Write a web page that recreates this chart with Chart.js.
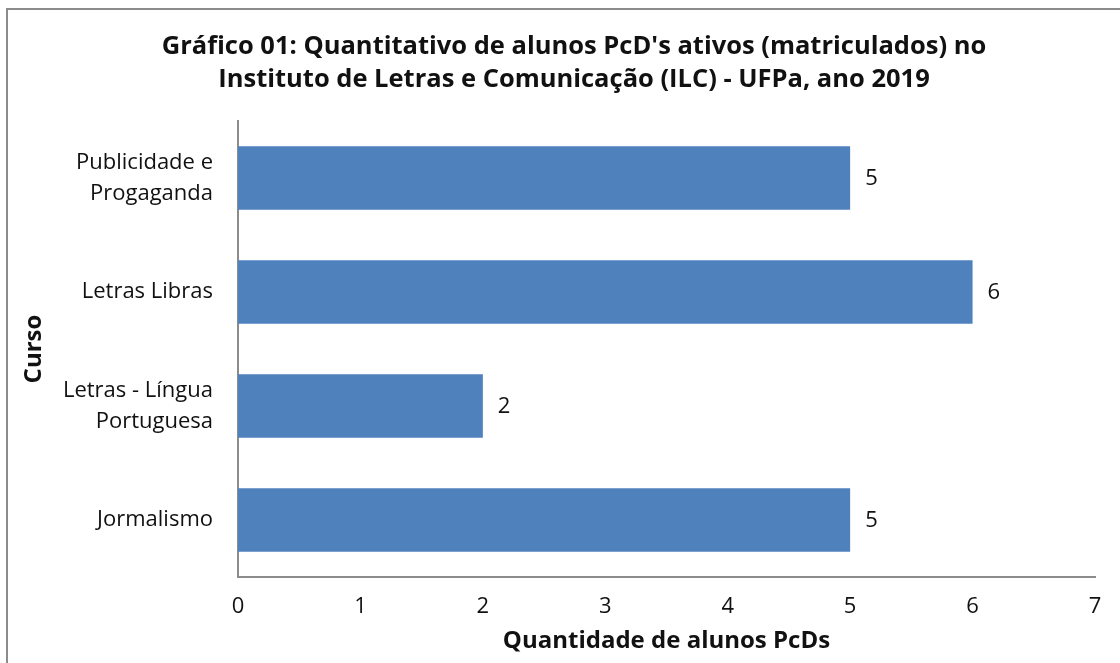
<!DOCTYPE html>
<html><head><meta charset="utf-8">
<script src="https://cdn.jsdelivr.net/npm/chart.js@4"></script>
<style>
html,body{margin:0;padding:0;background:#fff;overflow:hidden}
#frame{position:absolute;left:6px;top:8px;width:1200px;height:800px;border-left:2px solid #8c8c8c;border-top:2px solid #8c8c8c}
#wrap{position:absolute;left:0;top:0;width:1120px;height:663px}
</style></head>
<body>
<div id="frame"></div>
<div id="wrap"><canvas id="c" width="1120" height="663"></canvas></div>
<script>
const categories = [["Publicidade e","Progaganda"], "Letras Libras", ["Letras - Língua","Portuguesa"], "Jormalismo"];
const values = [5, 6, 2, 5];
const xTicks = [0, 1, 2, 3, 4, 5, 6, 7];
const titleLines = ["Gráfico 01: Quantitativo de alunos PcD's ativos (matriculados) no", "Instituto de Letras e Comunicação (ILC) - UFPa, ano 2019"];
const xTitle = "Quantidade de alunos PcDs";
const yTitle = "Curso";

const FONT = "'Open Sans', Lato, sans-serif";

const valueLabels = {
  id: 'valueLabels',
  afterDatasetsDraw(chart) {
    const ctx = chart.ctx;
    const meta = chart.getDatasetMeta(0);
    ctx.save();
    ctx.font = "22px " + FONT;
    ctx.fillStyle = "#111";
    ctx.textAlign = "left";
    ctx.textBaseline = "middle";
    meta.data.forEach((bar, i) => {
      ctx.fillText(String(values[i]), bar.x + 15, bar.y + 1);
    });
    ctx.restore();
  }
};

const chartTitle = {
  id: 'chartTitle',
  afterDraw(chart) {
    const ctx = chart.ctx;
    ctx.save();
    ctx.font = "bold 25.5px " + FONT;
    ctx.fillStyle = "#111";
    ctx.textAlign = "center";
    ctx.textBaseline = "middle";
    titleLines.forEach((t, i) => ctx.fillText(t, 574, 47 + i * 33));
    ctx.restore();
  }
};

new Chart(document.getElementById('c'), {
  type: 'bar',
  data: {
    labels: categories,
    datasets: [{
      data: values,
      backgroundColor: '#4F81BD',
      borderWidth: 0,
      barPercentage: 0.556,
      categoryPercentage: 1.0
    }]
  },
  options: {
    indexAxis: 'y',
    responsive: false,
    animation: false,
    devicePixelRatio: 1,
    layout: { padding: { left: 0, right: 25, top: 121, bottom: 0 } },
    plugins: {
      legend: { display: false },
      tooltip: { enabled: false },
      title: { display: false }
    },
    scales: {
      x: {
        min: 0, max: 7,
        afterBuildTicks(scale) { scale.ticks = xTicks.map(v => ({ value: v })); },
        afterFit(scale) { scale.height = 86; },
        grid: { display: false, drawTicks: false },
        border: { display: true, color: '#8c8c8c', width: 2 },
        ticks: { color: '#111', font: { family: FONT, size: 22 }, padding: 17 },
        title: { display: true, text: xTitle, color: '#111', font: { family: FONT, size: 24, weight: 'bold' }, padding: { top: 4, bottom: 7 } }
      },
      y: {
        afterFit(scale) { scale.width = 238; },
        grid: { display: false, drawTicks: false },
        border: { display: true, color: '#8c8c8c', width: 2 },
        ticks: { color: '#111', font: { family: FONT, size: 22, lineHeight: 1.4 }, padding: 25 },
        title: { display: true, text: yTitle, color: '#111', font: { family: FONT, size: 24, weight: 'bold' }, padding: { top: 20, bottom: 0 } }
      }
    }
  },
  plugins: [valueLabels, chartTitle]
});
</script>
</body></html>
